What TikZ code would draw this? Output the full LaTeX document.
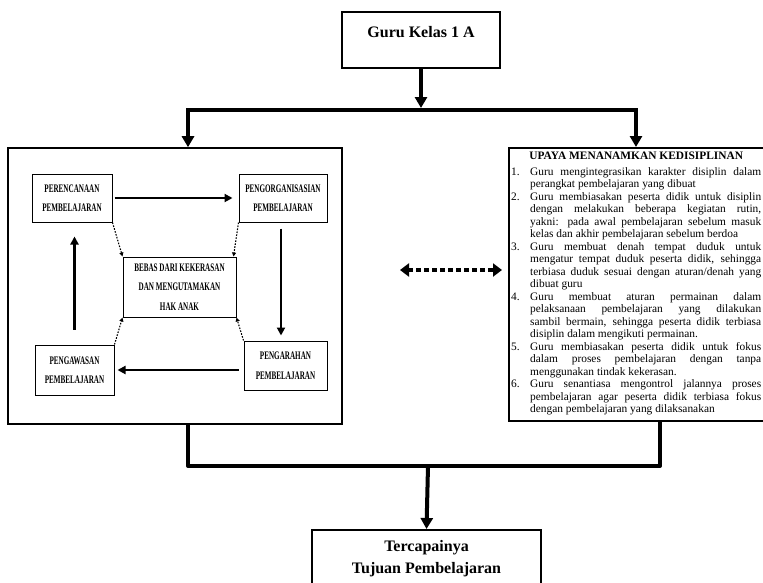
\documentclass[tikz,border=0pt]{standalone}
\usepackage{fontspec}
\setmainfont{Liberation Serif}
\newfontfamily\condfont[FakeStretch=0.62]{Liberation Serif}
\usetikzlibrary{arrows.meta,calc}
\begin{document}
\begin{tikzpicture}[x=1pt,y=-1pt,
  bigbox/.style={draw, line width=1.6pt, inner sep=0pt},
  smallbox/.style={draw, line width=1pt, inner sep=0pt, align=center,
    font=\condfont\fontsize{11.5}{19.5}\selectfont\bfseries},
  thickline/.style={line width=4pt},
  bigtip/.style={-{Triangle[length=11pt,width=12pt]}},
  flowarrow/.style={line width=2.6pt, -{Triangle[length=8pt,width=8pt]}},
  dotarrow/.style={line width=1.1pt, dash pattern=on 1.6pt off 1.4pt, -{Triangle[length=4pt,width=4pt]}},
  dasharrow/.style={line width=3.6pt, dash pattern=on 5pt off 3pt,
    {Triangle[length=9pt,width=13pt]}-{Triangle[length=9pt,width=13pt]}},
  labeltext/.style={font=\fontsize{16}{22}\selectfont\bfseries, align=center, inner sep=0pt}
]
\useasboundingbox (0,0) rectangle (763,582);
\clip (0,0) rectangle (763,582);

% top box
\node[bigbox, minimum width=158pt, minimum height=56pt] (guru) at (421,40) {};
\node[labeltext] (gurulbl) at (421,32) {Guru Kelas 1 A};

% main boxes
\node[bigbox, minimum width=334pt, minimum height=276pt] (left) at (175,286) {};
\node[bigbox, minimum width=263pt, minimum height=273pt, anchor=north west] (right) at (508,147) {};

% list text
\node[anchor=north west, inner sep=0pt, text width=250pt, align=justify, font=\fontsize{11.4}{12.5}\selectfont] (list) at (511,151.5) {%
\parindent=0pt \hyphenpenalty=10000 \exhyphenpenalty=10000 \tolerance=9999 \hbadness=10000
{\centering\bfseries UPAYA MENANAMKAN KEDISIPLINAN\par}
\vspace{3.5pt}
\hangindent=19pt\hangafter=1\makebox[19pt][l]{1.}Guru mengintegrasikan karakter disiplin dalam\linebreak perangkat pembelajaran yang dibuat\par
\hangindent=19pt\hangafter=1\makebox[19pt][l]{2.}Guru membiasakan peserta didik untuk disiplin\linebreak dengan melakukan beberapa kegiatan rutin,\linebreak yakni: pada awal pembelajaran sebelum masuk\linebreak kelas dan akhir pembelajaran sebelum berdoa\par
\hangindent=19pt\hangafter=1\makebox[19pt][l]{3.}Guru membuat denah tempat duduk untuk\linebreak mengatur tempat duduk peserta didik, sehingga\linebreak terbiasa duduk sesuai dengan aturan/denah yang\linebreak dibuat guru\par
\hangindent=19pt\hangafter=1\makebox[19pt][l]{4.}Guru membuat aturan permainan dalam\linebreak pelaksanaan pembelajaran yang dilakukan\linebreak sambil bermain, sehingga peserta didik terbiasa\linebreak disiplin dalam mengikuti permainan.\par
\hangindent=19pt\hangafter=1\makebox[19pt][l]{5.}Guru membiasakan peserta didik untuk fokus\linebreak dalam proses pembelajaran dengan tanpa\linebreak menggunakan tindak kekerasan.\par
\hangindent=19pt\hangafter=1\makebox[19pt][l]{6.}Guru senantiasa mengontrol jalannya proses\linebreak pembelajaran agar peserta didik terbiasa fokus\linebreak dengan pembelajaran yang dilaksanakan\par};

% bottom box
\node[bigbox, anchor=north, minimum width=229pt, minimum height=80pt] (goal) at (426.5,529) {};
\node[labeltext] (goallbl) at (426.5,559) {Tercapainya\\Tujuan Pembelajaran};

% top connectors
\coordinate (tl) at (188,110);
\coordinate (tr) at (636,110);
\coordinate (tm) at (421,110);
\draw[thickline, line cap=rect] (tl) -- (tr);
\draw[thickline, bigtip, shorten >=2pt] (guru.south) -- (tm);
\draw[thickline, bigtip] (tl) -- (tl |- left.north);
\draw[thickline, bigtip] (tr) -- (tr |- right.north);

% bottom connectors
\coordinate (bl) at (188,466);
\coordinate (br) at (660,466);
\coordinate (bm) at (428,466);
\draw[thickline, line join=round] (left.south -| bl) -- (bl) -- (br) -- (right.south -| br);
\draw[thickline, bigtip] (bm) -- (goal.north);

% inner boxes
\node[smallbox, minimum width=80pt, minimum height=48pt] (per) at (72,198) {PERENCANAAN\\PEMBELAJARAN};
\node[smallbox, minimum width=88pt, minimum height=48pt] (org) at (283,198) {PENGORGANISASIAN\\PEMBELAJARAN};
\node[smallbox, minimum width=113pt, minimum height=60pt] (bebas) at (179.5,287) {BEBAS DARI KEKERASAN\\DAN MENGUTAMAKAN\\HAK ANAK};
\node[smallbox, minimum width=79pt, minimum height=50pt] (awas) at (74.5,370) {PENGAWASAN\\PEMBELAJARAN};
\node[smallbox, minimum width=83pt, minimum height=49pt] (arah) at (285.5,365.5) {PENGARAHAN\\PEMBELAJARAN};

% cycle arrows
\draw[flowarrow, shorten <=2pt, shorten >=6pt] (per.east) -- (per.east -| org.west);
\draw[flowarrow, shorten <=6pt, shorten >=5pt] ([xshift=-2pt]org.south) -- ([xshift=-2pt]org.south |- arah.north);
\draw[flowarrow, shorten <=5pt, shorten >=3pt] (arah.west |- awas.east) -- (awas.east);
\draw[flowarrow, shorten <=15pt, shorten >=14pt] (awas.north) -- (awas.north |- per.south);

% dotted arrows
\draw[dotarrow] (per.south east) -- (bebas.north west);
\draw[dotarrow] (org.south west) -- ([xshift=-3pt]bebas.north east);
\draw[dotarrow] (arah.north west) -- (bebas.south east);
\draw[dotarrow] (awas.north east) -- (bebas.south west);

% dashed double arrow
\coordinate (dl) at (400,270);
\coordinate (dr) at (502,270);
\draw[dasharrow] (dl) -- (dr);
\end{tikzpicture}
\end{document}
